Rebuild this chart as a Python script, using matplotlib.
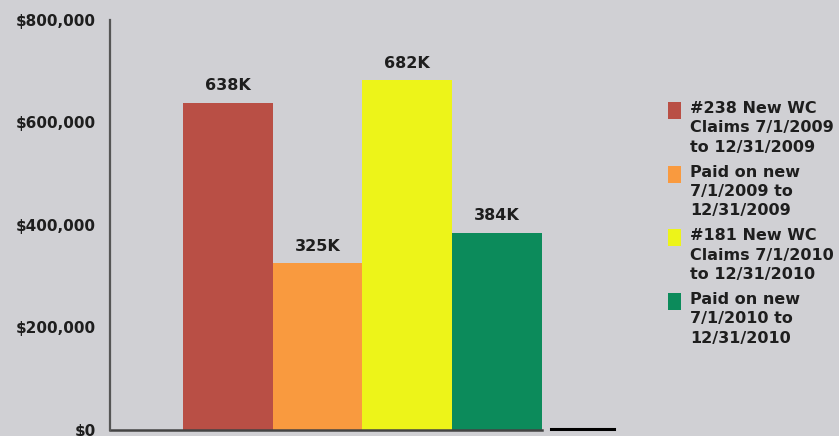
import matplotlib.pyplot as plt
from matplotlib.patches import Rectangle
from matplotlib.ticker import FuncFormatter

# claim totals per period (dollars)
categories = ["#238 New WC\nClaims 7/1/2009\nto 12/31/2009",
              "Paid on new\n7/1/2009 to\n12/31/2009",
              "#181 New WC\nClaims 7/1/2010\nto 12/31/2010",
              "Paid on new\n7/1/2010 to\n12/31/2010"]
values = [638000, 325000, 682000, 384000]
bar_labels = ["638K", "325K", "682K", "384K"]
colors = ["#b94f45", "#f99a3f", "#edf419", "#0c8b5b"]
yticks = [0, 200000, 400000, 600000, 800000]

bg = "#d0d0d4"
ink = "#1e1e1e"

fig = plt.figure(figsize=(8.39, 4.36), dpi=100, facecolor=bg)
ax = fig.add_axes([110 / 839, 1 - 430 / 436, 504 / 839, 410 / 436])
ax.set_facecolor(bg)

xs = range(len(values))
ax.bar(xs, values, width=1.0, color=colors, linewidth=0)
for x, v, lab in zip(xs, values, bar_labels):
    ax.annotate(lab, (x, v), xytext=(0, 7), textcoords="offset points",
                ha="center", va="bottom", fontsize=11.5, fontweight="bold", color=ink)

ax.set_xlim(-1.313, 4.302)
ax.set_ylim(0, 800000)
ax.set_yticks(yticks)
ax.yaxis.set_major_formatter(FuncFormatter(lambda v, p: f"${v:,.0f}"))
ax.tick_params(axis="y", length=0, pad=10, labelsize=11, colors=ink)
for t in ax.get_yticklabels():
    t.set_fontweight("bold")
ax.set_xticks([])

for s in ["top", "right", "bottom"]:
    ax.spines[s].set_visible(False)
ax.spines["left"].set_color("#555555")
ax.spines["left"].set_linewidth(1.6)

# baseline under the bars, plus the short dark stub to the right
ax.axhline(0, xmin=0, xmax=(3.5 + 1.313) / 5.615, color="#444444", lw=1.8, clip_on=False)
ax.axhline(2500, xmin=(3.6 + 1.313) / 5.615, xmax=1.0, color="black", lw=2.2, clip_on=False)

# legend on the right, swatch next to the first line of each entry
W, H = 839, 436
for i, (lab, c) in enumerate(zip(categories, colors)):
    top = 102 + i * 63.7
    fig.patches.append(Rectangle((668 / W, 1 - (top + 17) / H), 13 / W, 17 / H,
                                 transform=fig.transFigure, color=c, lw=0))
    fig.text(690 / W, 1 - (top - 1) / H, lab, ha="left", va="top",
             fontsize=11.5, fontweight="bold", color=ink, linespacing=1.36)

fig.savefig("out.png", dpi=100, facecolor=bg)
